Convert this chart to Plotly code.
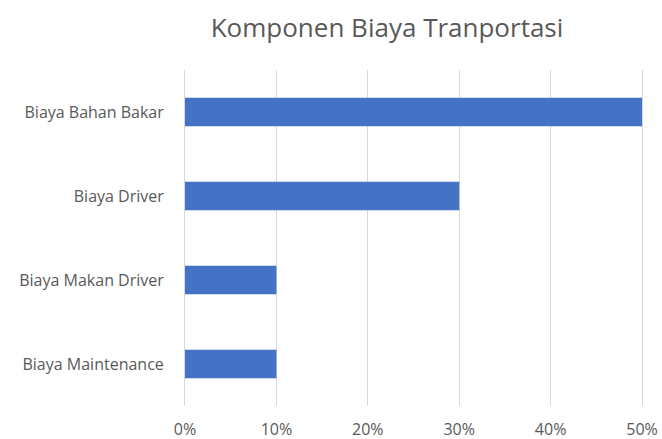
import plotly.graph_objects as go

categories = ["Biaya Bahan Bakar", "Biaya Driver", "Biaya Makan Driver", "Biaya Maintenance"]
values = [0.50, 0.30, 0.10, 0.10]
x_ticks = [0, 0.1, 0.2, 0.3, 0.4, 0.5]
x_ticklabels = ["0%", "10%", "20%", "30%", "40%", "50%"]
title_text = "Komponen Biaya Tranportasi"

FONT = "Open Sans"
GREY = "#595959"

fig = go.Figure(
    go.Bar(
        y=categories,
        x=values,
        orientation="h",
        marker=dict(color="#4472C4", line=dict(width=0)),
        width=0.34,
    )
)

fig.update_layout(
    width=662,
    height=439,
    margin=dict(l=185, r=20, t=70, b=33, autoexpand=False),
    paper_bgcolor="white",
    plot_bgcolor="white",
    showlegend=False,
    font=dict(family=FONT, color=GREY, size=16),
    title=dict(
        text=title_text,
        x=387 / 662,
        xanchor="center",
        xref="container",
        y=1 - 28 / 439,
        yanchor="middle",
        yref="container",
        font=dict(family=FONT, size=26, color=GREY),
    ),
)

fig.update_xaxes(
    range=[0, 0.5],
    tickvals=x_ticks,
    ticktext=x_ticklabels,
    showgrid=True,
    gridcolor="#D9D9D9",
    gridwidth=1,
    zeroline=False,
    showline=False,
    ticks="outside",
    ticklen=9,
    tickcolor="rgba(0,0,0,0)",
    tickfont=dict(family=FONT, size=16, color=GREY),
    automargin=False,
    fixedrange=True,
)
fig.update_yaxes(
    categoryorder="array",
    categoryarray=categories[::-1],
    showgrid=False,
    showline=True,
    mirror=True,
    linecolor="#D9D9D9",
    linewidth=1,
    zeroline=False,
    ticks="outside",
    ticklen=17,
    tickcolor="rgba(0,0,0,0)",
    tickfont=dict(family=FONT, size=16, color=GREY),
    automargin=False,
    fixedrange=True,
)

fig.write_html("out.html")
